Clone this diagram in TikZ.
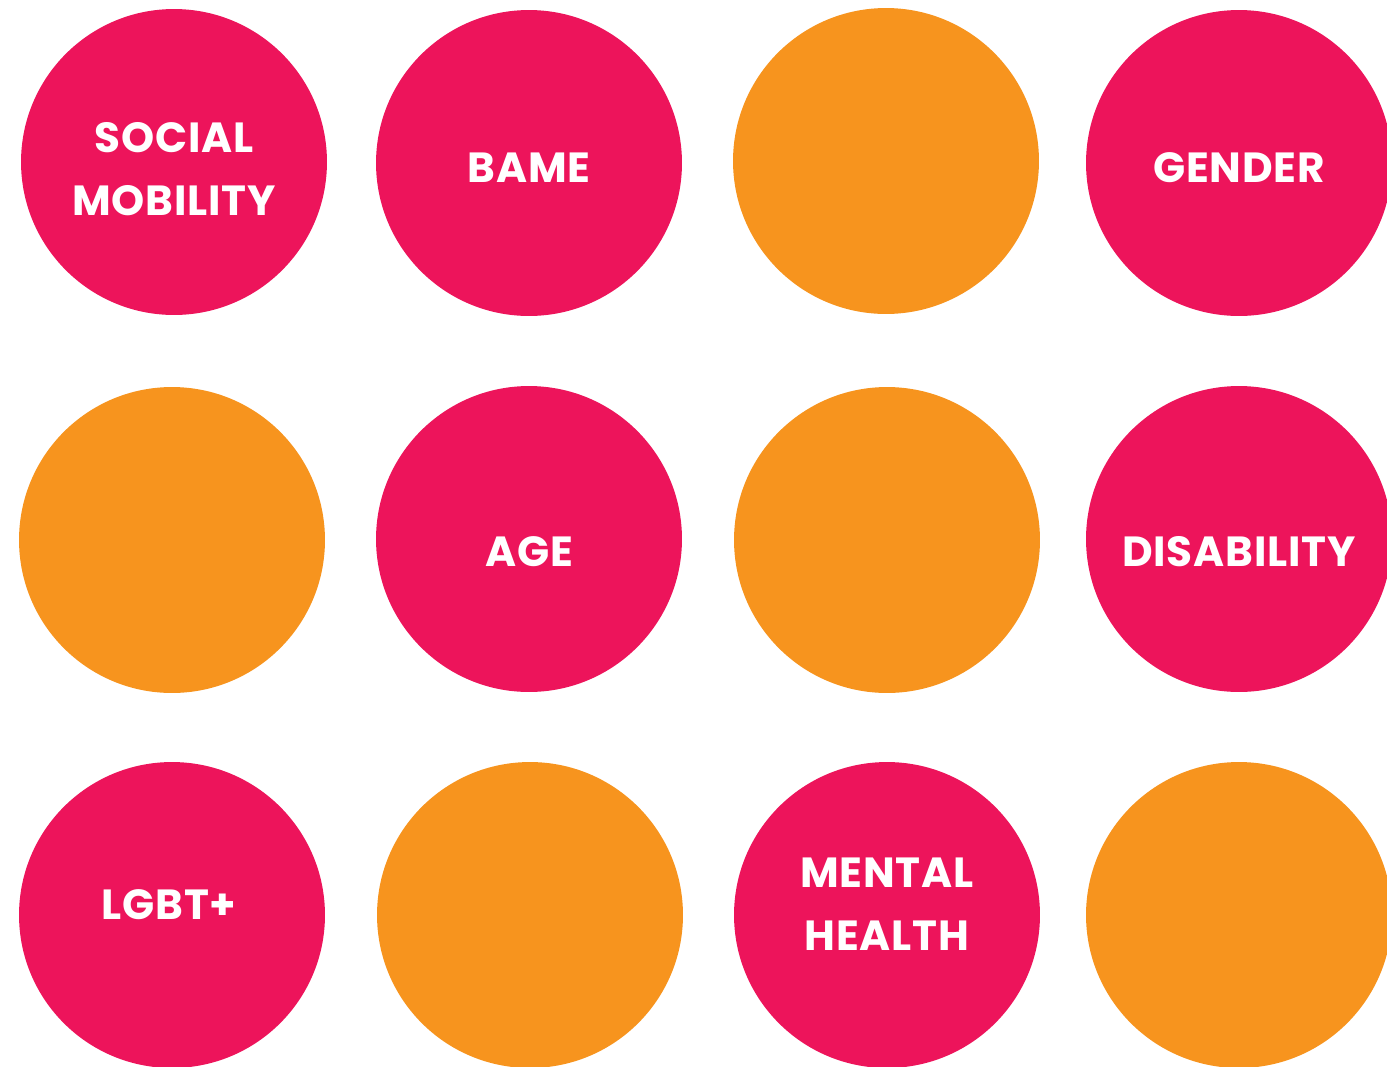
\documentclass[tikz,border=0pt]{standalone}
\usepackage{fontspec}
\newfontfamily\dotfont[LetterSpace=2]{Poppins}
\usetikzlibrary{positioning}

\definecolor{dotpink}{HTML}{ED145B}
\definecolor{dotorange}{HTML}{F7941E}

\tikzset{
  dot/.style={circle, minimum size=6.12cm, inner sep=0pt},
  pinkdot/.style={dot, fill=dotpink},
  orangedot/.style={dot, fill=dotorange},
  dotlabel/.style={text=white, align=center, font=\dotfont\bfseries\fontsize{24}{36}\selectfont}
}

\begin{document}
\begin{tikzpicture}[x=0.02cm, y=-0.02cm]
  \useasboundingbox (0,0) rectangle (1387,1066);
  \fill[white] (0,0) rectangle (1387,1066);
  \clip (0,0) rectangle (1387,1066);
  % top row
  \node[pinkdot] (social) at (174,162) {};
  \node[pinkdot] (bame) at (529,163) {};
  \node[orangedot] (blankA) at (886,161) {};
  \node[pinkdot] (gender) at (1239,163) {};
  % middle row
  \node[orangedot] (blankB) at (172,540) {};
  \node[pinkdot] (age) at (529,539) {};
  \node[orangedot] (blankC) at (887,540) {};
  \node[pinkdot] (disability) at (1239,539) {};
  % bottom row
  \node[pinkdot] (lgbt) at (172,915) {};
  \node[orangedot] (blankD) at (530,915) {};
  \node[pinkdot] (mental) at (887,915) {};
  \node[orangedot] (blankE) at (1239,915) {};
  % labels
  \node[dotlabel] at ([yshift=-0.14cm]social) {SOCIAL\\MOBILITY};
  \node[dotlabel] at ([yshift=-0.1cm]bame) {BAME};
  \node[dotlabel] at ([yshift=-0.1cm]gender) {GENDER};
  \node[dotlabel] at ([yshift=-0.26cm]age) {AGE};
  \node[dotlabel] at ([yshift=-0.26cm]disability) {DISABILITY};
  \node[dotlabel] at ([xshift=-0.06cm,yshift=0.2cm]lgbt) {LGBT+};
  \node[dotlabel] at ([yshift=0.22cm]mental) {MENTAL\\HEALTH};
\end{tikzpicture}
\end{document}
